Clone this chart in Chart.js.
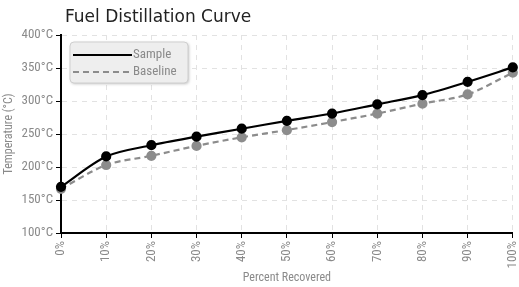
<!DOCTYPE html>
<html>
<head>
<meta charset="utf-8">
<script src="https://cdn.jsdelivr.net/npm/chart.js@4/dist/chart.umd.min.js"></script>
<style>
  html, body { margin: 0; padding: 0; background: #fff; }
  #wrap { position: relative; width: 519px; height: 287px; }
</style>
</head>
<body>
<div id="wrap"><canvas id="chart"></canvas></div>
<script>
const TITLE = 'Fuel Distillation Curve';
const labels = ['0%', '10%', '20%', '30%', '40%', '50%', '60%', '70%', '80%', '90%', '100%'];
const sample = [170, 216, 233, 246, 258, 270, 281, 295, 309, 329, 351];
const baseline = [167, 203, 217, 232, 245, 256, 268, 281, 296, 310, 343];

const narrow = '"Liberation Sans Narrow", "Roboto Condensed", "DejaVu Sans Condensed", sans-serif';
const grey = '#8a8a8a';

// titre + légende dessinés à la main
const decor = {
  id: 'decor',
  afterDraw(chart) {
    const c = chart.ctx;
    c.save();
    c.fillStyle = '#222';
    c.font = '17px "DejaVu Sans", Verdana, sans-serif';
    c.textBaseline = 'alphabetic';
    c.fillText(TITLE, 65, 22);

    // boîte de légende
    const x = 70, y = 42, w = 118, h = 41;
    c.shadowColor = 'rgba(0,0,0,0.25)';
    c.shadowBlur = 3;
    c.shadowOffsetX = 1;
    c.shadowOffsetY = 1;
    c.fillStyle = '#eeeeee';
    c.beginPath();
    c.roundRect(x, y, w, h, 4);
    c.fill();
    c.shadowColor = 'transparent';
    c.strokeStyle = '#cfcfcf';
    c.lineWidth = 1;
    c.stroke();

    chart.data.datasets.forEach((ds, i) => {
      const ly = 55 + i * 17;
      c.strokeStyle = ds.borderColor;
      c.lineWidth = ds.borderWidth;
      c.setLineDash(ds.borderDash || []);
      c.beginPath();
      c.moveTo(73, ly);
      c.lineTo(132, ly);
      c.stroke();
      c.setLineDash([]);
      c.fillStyle = grey;
      c.font = '13px ' + narrow;
      c.textBaseline = 'middle';
      c.fillText(ds.label, 133, ly);
    });
    c.restore();
  }
};

new Chart(document.getElementById('chart'), {
  type: 'line',
  data: {
    labels,
    datasets: [
      {
        label: 'Sample',
        data: sample,
        borderColor: '#000',
        backgroundColor: '#000',
        borderWidth: 2.2,
        pointRadius: 4,
        pointHoverRadius: 4,
        tension: 0.3
      },
      {
        label: 'Baseline',
        data: baseline,
        borderColor: '#8c8c8c',
        backgroundColor: '#8c8c8c',
        borderWidth: 2.2,
        borderDash: [6, 4],
        pointRadius: 4,
        pointHoverRadius: 4,
        tension: 0.3
      }
    ]
  },
  options: {
    responsive: true,
    maintainAspectRatio: false,
    animation: false,
    clip: false,
    layout: { padding: { top: 35, right: 3, left: 0, bottom: 0 } },
    plugins: {
      legend: { display: false },
      title: { display: false },
      tooltip: { enabled: false }
    },
    scales: {
      x: {
        type: 'category',
        offset: false,
        grid: { color: '#e2e2e2', tickColor: '#000', tickLength: 5 },
        border: { color: '#000', width: 2, dash: [5, 5] },
        ticks: {
          color: grey,
          font: { family: narrow, size: 13 },
          maxRotation: 90,
          minRotation: 90,
          padding: 3,
          autoSkip: false
        },
        title: {
          display: true,
          text: 'Percent Recovered',
          color: grey,
          font: { family: narrow, size: 12 },
          padding: { top: 0, bottom: 2 }
        },
        afterFit(scale) {
          scale.height = 54;
          scale.paddingLeft = 0;
          scale.paddingRight = 0;
        }
      },
      y: {
        type: 'linear',
        min: 100,
        max: 400,
        grid: { color: '#e2e2e2', tickColor: '#000', tickLength: 5 },
        border: { color: '#000', width: 2, dash: [5, 5] },
        ticks: {
          stepSize: 50,
          color: grey,
          font: { family: narrow, size: 13 },
          padding: 3,
          callback: v => v + '°C'
        },
        title: {
          display: true,
          text: 'Temperature (°C)',
          color: grey,
          font: { family: narrow, size: 12 },
          padding: { top: 2, bottom: 0 }
        },
        afterFit(scale) {
          scale.width = 61;
          scale.paddingTop = 0;
          scale.paddingBottom = 0;
        }
      }
    }
  },
  plugins: [decor]
});
</script>
</body>
</html>
